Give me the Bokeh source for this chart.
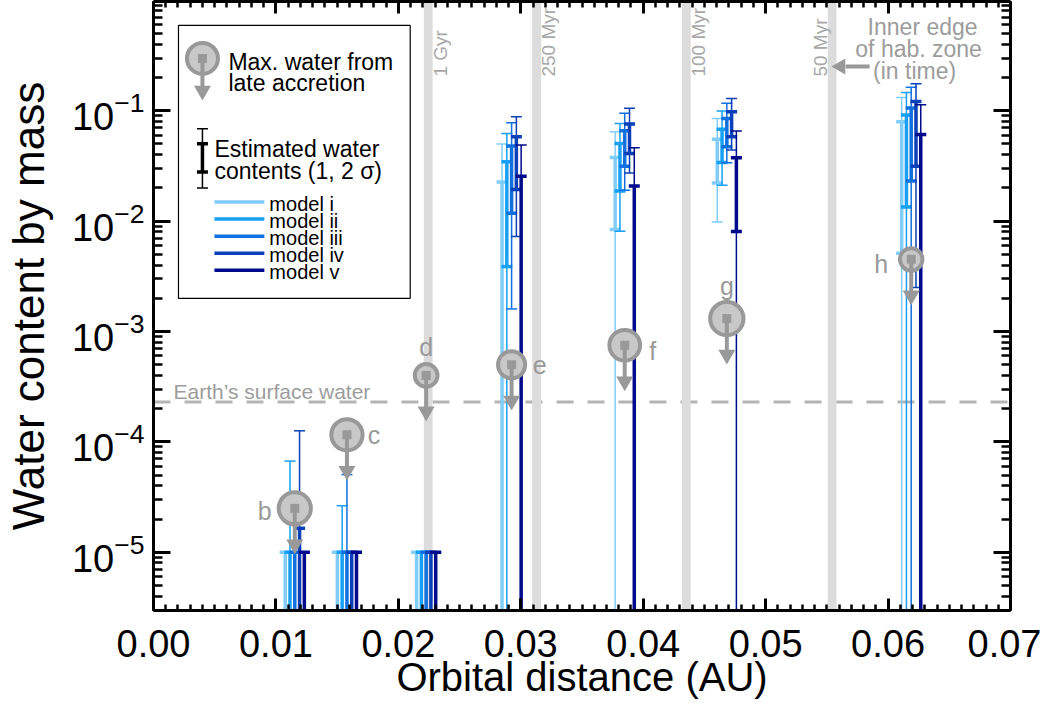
import math
from bokeh.plotting import figure
from bokeh.models import (ColumnDataSource, Range1d, LinearAxis, LogAxis, SingleIntervalTicker,
                          PrintfTickFormatter, LogTicker, Span, CustomJSTickFormatter)
from bokeh.core.properties import value
from bokeh.embed import file_html
from bokeh.resources import INLINE

FONT = "Liberation Sans"

# ---------------- data ----------------
planets = ["b", "c", "d", "e", "f", "g", "h"]
planet_a = [0.01154, 0.01580, 0.02227, 0.02925, 0.03849, 0.04683, 0.06189]
planet_radius = [1.09, 1.06, 0.77, 0.92, 1.04, 1.13, 0.76]
max_late_water = [2.5e-5, 1.16e-4, 4.0e-4, 5.0e-4, 7.5e-4, 1.31e-3, 4.5e-3]

models = ["model i", "model ii", "model iii", "model iv", "model v"]
model_colors = ["#80cdfa", "#17a0f5", "#1070e0", "#0b40b8", "#000a8c"]

F = 1e-8  # extends below the plotted range
sig1_hi = [
    [1e-5, 1e-5, 1e-5, 0.0226, 0.0377, 0.0552, 0.0794],
    [1e-5, 1e-5, 1e-5, 0.0344, 0.0505, 0.068, 0.0914],
    [1e-5, 1e-5, 1e-5, 0.0478, 0.0658, 0.085, 0.106],
    [1.65e-5, 1e-5, 1e-5, 0.058, 0.0757, 0.098, 0.121],
    [1e-5, 1e-5, 1e-5, 0.0255, 0.0208, 0.0374, 0.061],
]
sig1_lo = [
    [F, F, F, F, 8.4e-3, 0.0221, 5.1e-3],
    [F, F, F, 3.87e-3, 0.0187, 0.0339, 0.0134],
    [F, F, F, 0.0118, 0.0314, 0.0471, 0.0231],
    [F, F, F, 0.0193, 0.041, 0.058, 0.0314],
    [F, F, F, F, F, 8.05e-3, F],
]
sig2_hi = [
    [1e-5, 1e-5, 1e-5, 0.0498, 0.0644, 0.0851, 0.132],
    [6.7e-5, 2.64e-5, 1e-5, 0.0622, 0.0767, 0.0993, 0.146],
    [1e-5, 5.05e-5, 1e-5, 0.0778, 0.0946, 0.117, 0.163],
    [1.26e-4, 1e-5, 1e-5, 0.088, 0.105, 0.129, 0.175],
    [1e-5, 1e-5, 1e-5, 0.0488, 0.0461, 0.0654, 0.113],
]
sig2_lo = [
    [F, F, F, F, F, 9.8e-3, F],
    [F, F, F, F, 8.1e-3, 0.0211, F],
    [F, F, F, 1.6e-3, 0.019, 0.0337, F],
    [F, F, F, 7.26e-3, 0.0273, 0.044, 2.5e-3],
    [F, F, F, F, F, F, F],
]

earth_surface_water = 2.3e-4
band_x = [0.02244, 0.03129, 0.04352, 0.05543]
band_labels = ["1 Gyr", "250 Myr", "100 Myr", "50 Myr"]

X_MIN, X_MAX = 0.0, 0.07
Y_MIN, Y_MAX = 2.97e-6, 0.975

# ---------------- geometry helpers (reference page pixels -> data) ----------------
X_PER_PX = 0.07 / 858.0
def px_x(px):
    return (px - 152) * X_PER_PX
def px_y(py):
    return 10 ** (-1 - (py - 114) / 110.0)

GRAY = "#999999"
LIGHT = "#c8c8c8"
TXT_GRAY = "#9c9c9c"

p = figure(width=1041, height=701, x_range=Range1d(X_MIN, X_MAX),
           y_range=Range1d(Y_MIN, Y_MAX), y_axis_type="log",
           output_backend="svg", toolbar_location=None,
           min_border_left=152, min_border_right=31, min_border_top=1, min_border_bottom=89)
p.grid.visible = False
p.outline_line_color = None
p.background_fill_color = "white"

blank = CustomJSTickFormatter(code="return ''")

# axes
def style_x(ax, labels=True):
    ax.ticker = SingleIntervalTicker(interval=0.01, num_minor_ticks=10)
    ax.axis_line_width = 3
    ax.axis_line_color = "black"
    ax.major_tick_in = 12
    ax.major_tick_out = 0
    ax.minor_tick_in = 6
    ax.minor_tick_out = 0
    ax.major_tick_line_width = 3
    ax.minor_tick_line_width = 2.5
    ax.major_label_text_font = FONT
    ax.major_label_text_color = "black"
    if labels:
        ax.formatter = PrintfTickFormatter(format="%.2f")
        ax.major_label_text_font_size = "38px"
        ax.major_label_standoff = 19
    else:
        ax.formatter = blank
        ax.major_label_standoff = 0

def style_y(ax, labels=True):
    ax.ticker = LogTicker(num_minor_ticks=10)
    ax.axis_line_width = 3
    ax.axis_line_color = "black"
    ax.major_tick_in = 17
    ax.major_tick_out = 0
    ax.minor_tick_in = 9
    ax.minor_tick_out = 0
    ax.major_tick_line_width = 3
    ax.minor_tick_line_width = 2.5
    ax.major_label_text_font = FONT
    ax.major_label_text_color = "black"
    if labels:
        ax.major_label_text_font_size = "38px"
        ax.major_label_standoff = 9
    else:
        ax.formatter = blank
        ax.major_label_standoff = 0

style_x(p.xaxis[0])
style_y(p.yaxis[0])
p.xaxis[0].axis_label = "Orbital distance (AU)"
p.yaxis[0].axis_label = "Water content by mass"
for ax in (p.xaxis[0], p.yaxis[0]):
    ax.axis_label_text_font = FONT
    ax.axis_label_text_font_style = "normal"
    ax.axis_label_text_color = "black"
p.xaxis[0].axis_label_text_font_size = "40px"
p.xaxis[0].axis_label_standoff = -5
p.yaxis[0].axis_label_text_font_size = "44px"
p.yaxis[0].axis_label_standoff = 16

top_ax = LinearAxis()
style_x(top_ax, labels=False)
p.add_layout(top_ax, "above")
right_ax = LogAxis()
style_y(right_ax, labels=False)
p.add_layout(right_ax, "right")

# time bands
BW = 0.00036
p.quad(left=[b - BW for b in band_x], right=[b + BW for b in band_x],
       bottom=1e-8, top=10, fill_color="#dcdcdc", line_color=None)
p.text(x=band_x, y=px_y(80), text=band_labels, angle=math.pi / 2,
       x_offset=[12, 12, 12, -12], text_align="left", text_baseline="middle",
       text_font=value(FONT), text_font_size="19px", text_color="#a8a8a8")

# Earth's surface water
p.add_layout(Span(location=earth_surface_water, dimension="width", line_color="#b4b4b4",
                  line_width=3, line_dash="17 14", level="underlay"))
p.text(x=[px_x(172)], y=[earth_surface_water], text=["Earth\u2019s surface water"],
       y_offset=-10, text_align="left", text_baseline="middle",
       text_font=value(FONT), text_font_size="21px", text_color=TXT_GRAY)

# error bars
STEP = 0.00039
for k in range(5):
    xs = [a + (k - 2) * STEP for a in planet_a]
    col = model_colors[k]
    src = ColumnDataSource(dict(x=xs, lo1=sig1_lo[k], hi1=sig1_hi[k],
                                lo2=sig2_lo[k], hi2=sig2_hi[k]))
    p.segment(x0="x", y0="lo2", x1="x", y1="hi2", source=src, line_color=col, line_width=1.5)
    p.segment(x0="x", y0="lo1", x1="x", y1="hi1", source=src, line_color=col, line_width=3.5)
    p.scatter(x="x", y="hi2", source=src, marker="dash", size=11, line_color=col, line_width=1.5)
    lo2c = [(x, v) for x, v in zip(xs, sig2_lo[k]) if v > F]
    if lo2c:
        p.scatter(x=[c[0] for c in lo2c], y=[c[1] for c in lo2c], marker="dash", size=11,
                  line_color=col, line_width=1.5)
    p.scatter(x="x", y="hi1", source=src, marker="dash", size=11, line_color=col, line_width=3.5)
    lo1c = [(x, v) for x, v in zip(xs, sig1_lo[k]) if v > F]
    if lo1c:
        p.scatter(x=[c[0] for c in lo1c], y=[c[1] for c in lo1c], marker="dash", size=11,
                  line_color=col, line_width=3.5)

# late-accretion markers (circle, downward arrow, square)
HEAD_F = 2.12   # arrow head centre, as a factor below the limit (fixed screen length)
SHAFT_F = 1.95
lab_dx = [-30, 27, 0, 28, 28, 0, -30]
lab_dy = [3, 0, -28, 0, 6, -33, 5]
msrc = ColumnDataSource(dict(x=planet_a, y=max_late_water,
                             yhead=[v / HEAD_F for v in max_late_water],
                             yshaft=[v / SHAFT_F for v in max_late_water],
                             size=[29.5 * r for r in planet_radius], name=planets,
                             dx=lab_dx, dy=lab_dy))
p.scatter(x="x", y="y", size="size", source=msrc, marker="circle",
          fill_color=LIGHT, line_color=GRAY, line_width=4)
p.segment(x0="x", y0="y", x1="x", y1="yshaft", source=msrc, line_color=GRAY, line_width=4)
p.scatter(x="x", y="yhead", source=msrc, marker="inverted_triangle", size=17,
          fill_color=GRAY, line_color=None)
p.scatter(x="x", y="y", size=9, source=msrc, marker="square", fill_color=GRAY, line_color=None)
p.text(x="x", y="y", text="name", source=msrc, x_offset="dx", y_offset="dy",
       text_align="center", text_baseline="middle", text_font=value(FONT),
       text_font_size="25px", text_color=GRAY)

# inner edge of habitable zone annotation
p.text(x=[px_x(922), px_x(918), px_x(914)], y=[px_y(31), px_y(53), px_y(74)],
       text=["Inner edge", "of hab. zone", "(in time)"], text_align="center",
       text_baseline="middle", text_font=value(FONT), text_font_size="23px", text_color=TXT_GRAY)
p.segment(x0=[px_x(869)], y0=[px_y(70)], x1=[px_x(845)], y1=[px_y(70)],
          line_color=GRAY, line_width=4)
p.scatter(x=[px_x(840)], y=[px_y(70)], marker="triangle", angle=math.pi / 2, size=16,
          fill_color=GRAY, line_color=None)

# ---------------- legend ----------------
p.quad(left=[px_x(177)], right=[px_x(409)], top=[px_y(29)], bottom=[px_y(301)],
       fill_color="white", line_color="black", line_width=1.2)
lx = px_x(201)
p.scatter(x=[lx], y=[px_y(62)], size=31, marker="circle", fill_color=LIGHT,
          line_color=GRAY, line_width=4)
p.segment(x0=[lx], y0=[px_y(62)], x1=[lx], y1=[px_y(90)], line_color=GRAY, line_width=4)
p.scatter(x=[lx], y=[px_y(94)], marker="inverted_triangle", size=17,
          fill_color=GRAY, line_color=None)
p.scatter(x=[lx], y=[px_y(62)], size=9, marker="square", fill_color=GRAY, line_color=None)
p.text(x=[px_x(227)] * 2, y=[px_y(65), px_y(86)], text=["Max. water from", "late accretion"],
       text_align="left", text_baseline="middle", text_font=value(FONT),
       text_font_size="23px", text_color="black")
p.segment(x0=[lx], y0=[px_y(132)], x1=[lx], y1=[px_y(191)], line_color="black", line_width=1.5)
p.segment(x0=[lx], y0=[px_y(147)], x1=[lx], y1=[px_y(175)], line_color="black", line_width=3.5)
p.scatter(x=[lx, lx], y=[px_y(132), px_y(191)], marker="dash", size=11,
          line_color="black", line_width=1.5)
p.scatter(x=[lx, lx], y=[px_y(147), px_y(175)], marker="dash", size=11,
          line_color="black", line_width=3.5)
p.text(x=[px_x(213)] * 2, y=[px_y(152), px_y(174)],
       text=["Estimated water", "contents (1, 2 \u03c3)"],
       text_align="left", text_baseline="middle", text_font=value(FONT),
       text_font_size="23px", text_color="black")
ly = [px_y(205 + 17 * k) for k in range(5)]
lty = [px_y(207 + 17 * k) for k in range(5)]
p.segment(x0=[px_x(213)] * 5, y0=ly, x1=[px_x(263)] * 5, y1=ly, line_color=model_colors,
          line_width=3.5)
p.text(x=[px_x(268)] * 5, y=lty, text=models, text_align="left", text_baseline="middle",
       text_font=value(FONT), text_font_size="20px", text_color="black")

open("out.html", "w").write(file_html(p, INLINE))
